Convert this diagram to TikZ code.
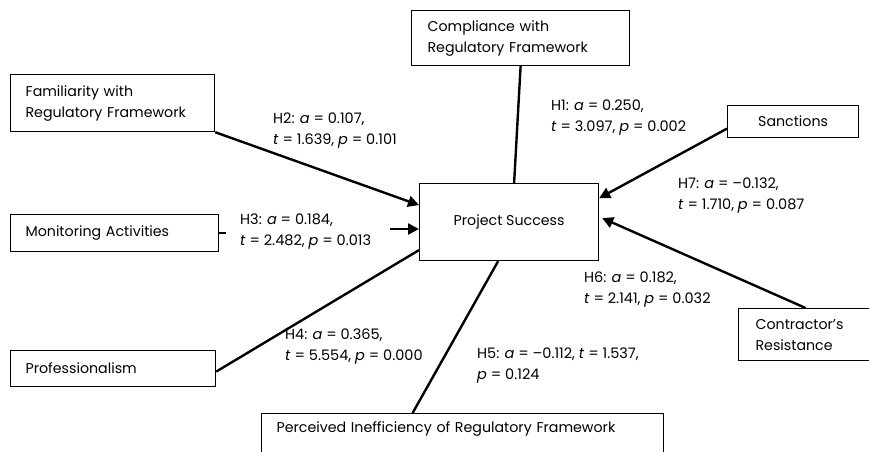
\documentclass[tikz,border=0pt]{standalone}
\usepackage{fontspec}
\setmainfont{Poppins}
\usepackage{tikz}
\usetikzlibrary{arrows.meta, positioning, calc}

\tikzset{
  box/.style={rectangle, draw, line width=1.2pt, inner ysep=0pt, align=left},
  hyp/.style={anchor=west, inner sep=0pt, align=left, font=\fontsize{14.5}{21}\selectfont},
  link/.style={line width=2.4pt},
  arr/.style={line width=2.4pt, -{Triangle[length=11pt,width=11pt]}}
}

\begin{document}
\begin{tikzpicture}[x=1pt, y=-1pt, font=\fontsize{14.2}{21}\selectfont]
\useasboundingbox (0,0) rectangle (869,451);
% central construct
\node[box, anchor=north west, minimum width=179pt, minimum height=77pt, align=center] (ps) at (419,183) {Project Success};

% independent constructs
\node[box, anchor=north west, text width=186pt, inner xsep=16pt, minimum height=55pt] (comp) at (411,10) {Compliance with\\Regulatory Framework};
\node[box, anchor=north west, text width=174pt, inner xsep=15pt, minimum height=57pt] (fam) at (10,74) {Familiarity with\\Regulatory Framework};
\node[box, anchor=north west, text width=178pt, inner xsep=15pt, minimum height=37pt] (mon) at (10,214) {Monitoring Activities};
\node[box, anchor=north west, text width=175pt, inner xsep=15pt, minimum height=36pt] (prof) at (10,350) {Professionalism};
\node[box, anchor=north west, text width=372pt, inner xsep=15pt, inner ysep=8pt, text depth=30pt] (perc) at (261,413) {Perceived Inefficiency of Regulatory Framework};
\node[box, anchor=north west, minimum width=131pt, minimum height=32pt, align=center] (sanc) at (727,105) {Sanctions};
\node[box, anchor=north west, text width=100pt, inner xsep=17pt, minimum height=52pt] (con) at (738,308) {Contractor’s\\Resistance};

% paths
\draw[link] (comp.south) -- ([xshift=5pt]ps.north);
\draw[arr] (fam.south east) -- ([yshift=17pt]ps.west);
\coordinate (mstub) at ($(mon.east)+(7,0)$);
\coordinate (marr) at (390,229);
\draw[link] (mon.east) -- (mstub);
\draw[arr] (marr) -- (marr -| ps.west);
\draw[link] ([yshift=-3pt]prof.east) -- ([yshift=-28pt]ps.west);
\draw[link] ([xshift=-50pt]perc.north) -- ([xshift=-11pt]ps.south);
\draw[arr] ([yshift=-7pt]sanc.west) -- ([yshift=24pt]ps.east);
\draw[arr] (con.north) -- ([xshift=3pt,yshift=4pt]ps.east);

% path coefficients
\node[hyp] (h1) at (551,118) {H1: \textit{a} = 0.250,\\\textit{t} = 3.097, \textit{p} = 0.002};
\node[hyp] (h2) at (273,131) {H2: \textit{a} = 0.107,\\\textit{t} = 1.639, \textit{p} = 0.101};
\node[hyp] (h3) at (240,232) {H3: \textit{a} = 0.184,\\\textit{t} = 2.482, \textit{p} = 0.013};
\node[hyp] (h4) at (285,347) {H4: \textit{a} = 0.365,\\\textit{t} = 5.554, \textit{p} = 0.000};
\node[hyp] (h5) at (477,366) {H5: \textit{a} = –0.112, \textit{t} = 1.537,\\\textit{p} = 0.124};
\node[hyp] (h6) at (584,290) {H6: \textit{a} = 0.182,\\\textit{t} = 2.141, \textit{p} = 0.032};
\node[hyp] (h7) at (678,196) {H7: \textit{a} = –0.132,\\\textit{t} = 1.710, \textit{p} = 0.087};
\end{tikzpicture}
\end{document}
